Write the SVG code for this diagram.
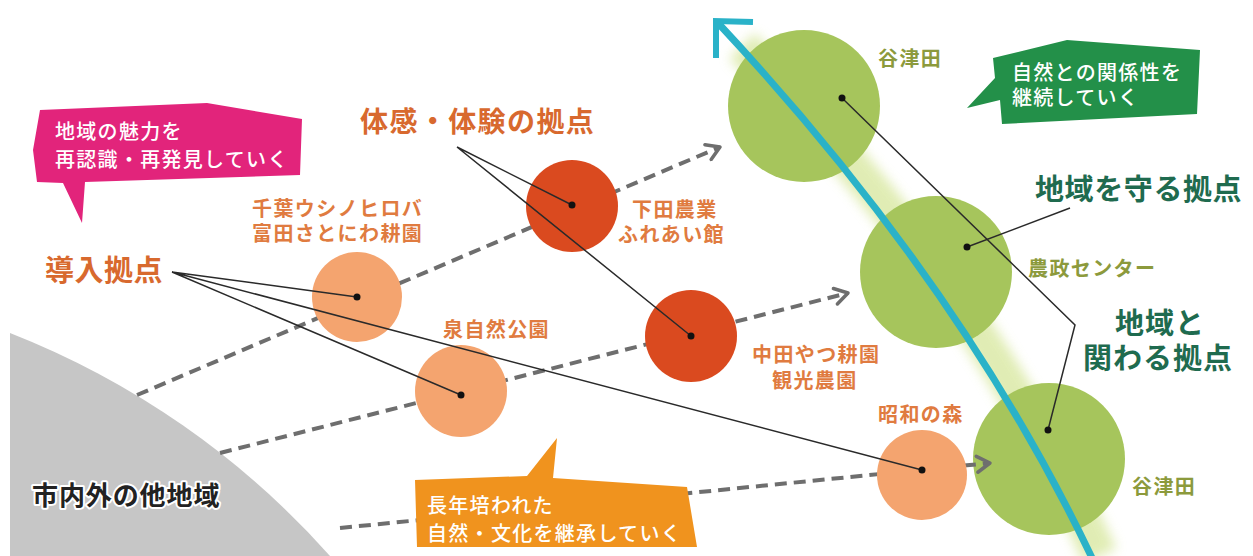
<svg xmlns="http://www.w3.org/2000/svg" width="1253" height="556" viewBox="0 0 1253 556">
<style>
text{font-family:"Noto Sans CJK JP","Noto Sans",sans-serif;}
.big{font-size:29px;font-weight:700;}
.sm{font-size:20px;font-weight:700;letter-spacing:1.4px;}
.or{fill:#d8692e;stroke:#fff;stroke-width:3px;paint-order:stroke;stroke-linejoin:round;}
.ors{fill:#e07b40;}
.ol{fill:#8c9a3c;}
.gr{fill:#1f6b4f;}
.wt{fill:#fff;font-size:20px;font-weight:500;letter-spacing:1.3px;}
.dash{fill:none;stroke:#6e6e6e;stroke-width:4;stroke-dasharray:12 7;marker-end:url(#chev);}
.lead{fill:none;stroke:#2a2a2a;stroke-width:1.5;}
.cL{fill:#f4a46f;}
.cR{fill:#da4a1f;}
.cG{fill:#a6c55c;}
.dot{fill:#111;}
</style>
<defs>
<marker id="chev" viewBox="0 0 20 20" refX="17" refY="10" markerWidth="20" markerHeight="20" markerUnits="userSpaceOnUse" orient="auto">
<path d="M4,2 L17,10 L4,18" fill="none" stroke="#6e6e6e" stroke-width="3.5" stroke-linejoin="round" stroke-linecap="round"/>
</marker>
<filter id="blur" x="-20%" y="-20%" width="140%" height="140%"><feGaussianBlur stdDeviation="6"/></filter>
</defs>
<rect width="1253" height="556" fill="#fff"/>

<g id="region-outside">
<path d="M10,333 A837,837 0 0 1 330,556 L10,556 Z" fill="#c6c6c6"/>
<text x="32" y="505" font-size="26" font-weight="700" letter-spacing="0.9" fill="#222" stroke="#fff" stroke-width="4" paint-order="stroke" stroke-linejoin="round">市内外の他地域</text>
</g>

<g id="glow">
<path d="M1100,556 Q975,278 742,46" fill="none" stroke="#d9e8a2" stroke-width="36" opacity="0.8" filter="url(#blur)"/>
</g>

<g id="node-yatsuda1"><circle class="cG" cx="804" cy="106" r="76"/>
<text class="sm ol" x="878" y="66">谷津田</text></g>
<g id="node-nousei"><circle class="cG" cx="936" cy="272" r="76"/>
<text class="sm ol" x="1028" y="276">農政センター</text></g>
<g id="node-yatsuda2"><circle class="cG" cx="1049" cy="459" r="76"/>
<text class="sm ol" x="1132" y="494">谷津田</text></g>

<g id="connectors">
<path class="dash" d="M137,395 L720,147"/>
<path class="dash" d="M220,453 L848,293"/>
<path class="dash" d="M340,528 L990,463"/>
</g>

<g id="node-chiba"><circle class="cL" cx="357" cy="297" r="45"/>
<text class="sm ors" x="252" y="216">千葉ウシノヒロバ</text>
<text class="sm ors" x="252" y="241">富田さとにわ耕園</text></g>
<g id="node-izumi"><circle class="cL" cx="461" cy="391" r="46"/>
<text class="sm ors" x="443" y="337">泉自然公園</text></g>
<g id="node-showa"><circle class="cL" cx="922" cy="475" r="45"/>
<text class="sm ors" x="878" y="422">昭和の森</text></g>
<g id="node-shimoda"><circle class="cR" cx="572" cy="206" r="46"/>
<text class="sm ors" x="632" y="217">下田農業</text>
<text class="sm ors" x="618" y="242">ふれあい館</text></g>
<g id="node-nakata"><circle class="cR" cx="691" cy="336" r="46"/>
<text class="sm ors" x="752" y="362">中田やつ耕園</text>
<text class="sm ors" x="772" y="388">観光農園</text></g>

<g id="river">
<path d="M1093,560 Q962,284 718,23" fill="none" stroke="#2ab2c8" stroke-width="7"/>
<path d="M753,22 L716,21 L716,58" fill="none" stroke="#2ab2c8" stroke-width="6" stroke-linejoin="miter"/>
</g>

<g id="leaders">
<path class="lead" d="M172,272 L357,297 M172,272 L461,395 M172,272 L922,470"/>
<path class="lead" d="M457,147 L572,205 M457,147 L691,336"/>
<path class="lead" d="M1070,208 L967,247"/>
<path class="lead" d="M842,98 L1075,325 L1048,430"/>
</g>
<g id="dots">
<circle class="dot" cx="357" cy="297" r="3.5"/>
<circle class="dot" cx="461" cy="395" r="3.5"/>
<circle class="dot" cx="922" cy="470" r="3.5"/>
<circle class="dot" cx="572" cy="205" r="3.5"/>
<circle class="dot" cx="691" cy="336" r="3.5"/>
<circle class="dot" cx="842" cy="98" r="3.5"/>
<circle class="dot" cx="967" cy="247" r="3.5"/>
<circle class="dot" cx="1048" cy="430" r="3.5"/>
</g>

<g id="label-intro"><text class="big or" x="45" y="281" letter-spacing="0.5">導入拠点</text></g>
<g id="label-experience"><text class="big or" x="360" y="132" letter-spacing="1.4" style="font-size:28px">体感・体験の拠点</text></g>
<g id="label-protect"><text class="big gr" x="1035" y="200" letter-spacing="0.6">地域を守る拠点</text></g>
<g id="label-relate">
<text class="big gr" x="1115" y="334" letter-spacing="1">地域と</text>
<text class="big gr" x="1083" y="369" letter-spacing="1">関わる拠点</text>
</g>

<g id="callout-pink">
<path d="M40,110 L207,103 L302,119 L300,175 L85,182 L82,223 L63,183 L37,182 L33,150 Z" fill="#e2247b"/>
<text class="wt" x="55" y="139">地域の魅力を</text>
<text class="wt" x="55" y="167">再認識・再発見していく</text>
</g>
<g id="callout-green">
<path d="M993,58 L1067,40 L1200,50 L1197,114 L1002,124 L1000,100 L967,108 L995,78 Z" fill="#239049"/>
<text class="wt" x="1012" y="80">自然との関係性を</text>
<text class="wt" x="1012" y="105">継続していく</text>
</g>
<g id="callout-orange">
<path d="M415,480 L527,476 L557,438 L553,478 L687,487 L697,547 L417,547 Z" fill="#f0931e"/>
<text class="wt" x="427" y="513">長年培われた</text>
<text class="wt" x="427" y="541">自然・文化を継承していく</text>
</g>
</svg>
